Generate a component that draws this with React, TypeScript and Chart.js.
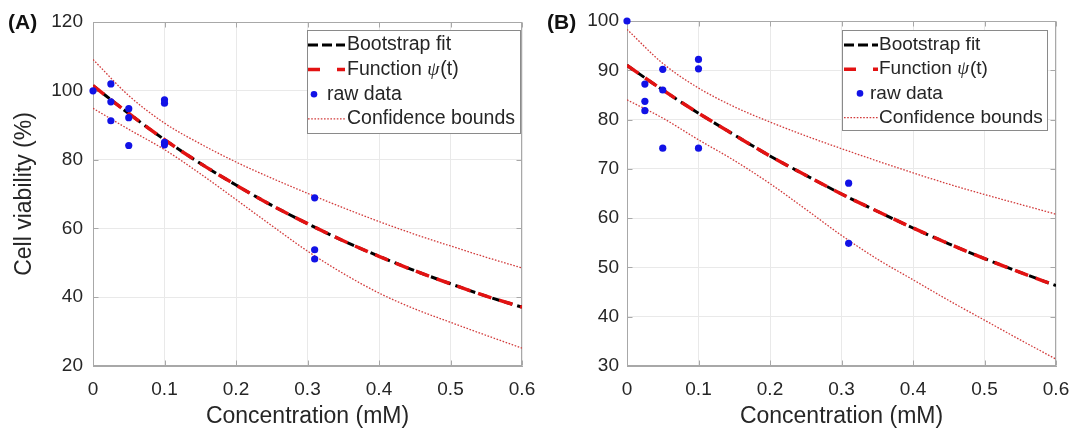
import React, { useEffect, useRef } from 'react';
import { Chart, registerables } from 'chart.js';

Chart.register(...registerables);

// ---------- data ----------
const xTickValues = [0, 0.1, 0.2, 0.3, 0.4, 0.5, 0.6];
const xTickLabels = ['0', '0.1', '0.2', '0.3', '0.4', '0.5', '0.6'];
const yTicksA = [20, 40, 60, 80, 100, 120];
const yTicksB = [30, 40, 50, 60, 70, 80, 90, 100];

const curveX = [0, 0.05, 0.1, 0.15, 0.2, 0.25, 0.3, 0.35, 0.4, 0.45, 0.5, 0.55, 0.6];

const fitA = [101.5, 93.4, 85.8, 78.9, 72.6, 66.7, 61.4, 56.4, 51.9, 47.7, 43.9, 40.3, 37.1];
const upperA = [109.1, 98.6, 90.6, 84.6, 79.3, 74.6, 70.2, 66.0, 62.0, 58.3, 54.9, 51.6, 48.5];
const lowerA = [94.9, 88.8, 82.9, 75.9, 68.4, 60.8, 53.4, 46.9, 41.2, 36.6, 32.7, 28.9, 25.2];
const rawAX = [0, 0.025, 0.025, 0.025, 0.05, 0.05, 0.05, 0.1, 0.1, 0.1, 0.1, 0.31, 0.31, 0.31];
const rawAY = [100, 102, 96.8, 91.3, 94.8, 92.2, 84.1, 97.4, 96.4, 84.3, 85.0, 68.9, 53.8, 51.1];

const fitB = [91.0, 86.0, 81.3, 76.9, 72.6, 68.7, 64.9, 61.4, 58.0, 54.8, 51.8, 49.0, 46.3];
const upperB = [98.3, 91.4, 86.4, 82.6, 79.5, 76.7, 74.1, 71.6, 69.2, 66.9, 64.8, 62.8, 60.8];
const lowerB = [84.0, 80.3, 75.9, 71.7, 67.0, 61.8, 56.5, 51.7, 47.5, 43.3, 39.3, 35.3, 31.4];
const rawBX = [0, 0.025, 0.025, 0.025, 0.05, 0.05, 0.05, 0.1, 0.1, 0.1, 0.31, 0.31];
const rawBY = [100, 87.2, 83.7, 81.8, 90.2, 86.0, 74.2, 92.2, 90.3, 74.2, 67.1, 54.9];

const legendLabels = ['Bootstrap fit', 'Function ', 'raw data', 'Confidence bounds'];
const xTitle = 'Concentration (mM)';
const yTitle = 'Cell viability (%)';

// ---------- styles ----------
const FONT = '"Liberation Sans", Arial, Helvetica, sans-serif';
const BLUE = '#1212e6';
const RED = '#e31212';
const BOUND = '#d23c3c';
const GRID = '#e9e9e9';
const AXIS = '#a8a8a8';
const TEXT = '#262626';
const LEGEND_BORDER = '#8a8a8a';

type LegendLayout = {
  x: number; y: number; w: number; h: number; font: number; first: number; step: number;
  s0: number; s1: number; textX: number; dotX: number; rawTextX: number;
};

type PanelLayout = {
  canvasLeft: number; width: number; top: number; padRight: number; yWidth: number;
  yTickPad: number; showYTitle: boolean; legend: LegendLayout;
};

const boxPlugin = {
  id: 'matlabBox',
  beforeDatasetsDraw(chart: any) {
    const { ctx, chartArea: a, scales } = chart;
    ctx.save();
    ctx.strokeStyle = AXIS;
    ctx.lineWidth = 1;
    const L = Math.round(a.left) + 0.5, R = Math.round(a.right) - 0.5;
    const T = Math.round(a.top) + 0.5, B = Math.round(a.bottom) - 0.5;
    ctx.strokeRect(L, T, R - L, B - T);
    const tl = 5;
    ctx.beginPath();
    scales.x.ticks.forEach((t: any) => {
      const px = Math.round(scales.x.getPixelForValue(t.value)) + 0.5;
      ctx.moveTo(px, B); ctx.lineTo(px, B - tl);
      ctx.moveTo(px, T); ctx.lineTo(px, T + tl);
    });
    scales.y.ticks.forEach((t: any) => {
      const py = Math.round(scales.y.getPixelForValue(t.value)) + 0.5;
      ctx.moveTo(L, py); ctx.lineTo(L + tl, py);
      ctx.moveTo(R, py); ctx.lineTo(R - tl, py);
    });
    ctx.stroke();
    ctx.restore();
  },
};

function makeLegendPlugin(L: LegendLayout) {
  return {
    id: 'boxLegend',
    afterDraw(chart: any) {
      const ctx = chart.ctx as CanvasRenderingContext2D;
      ctx.save();
      ctx.fillStyle = '#ffffff';
      ctx.fillRect(L.x, L.y, L.w, L.h);
      ctx.strokeStyle = LEGEND_BORDER;
      ctx.lineWidth = 1;
      ctx.setLineDash([]);
      ctx.strokeRect(L.x + 0.5, L.y + 0.5, L.w, L.h);
      const ry = (i: number) => L.y + L.first + i * L.step;
      const seg = (y: number) => {
        ctx.beginPath();
        ctx.moveTo(L.s0, y);
        ctx.lineTo(L.s1, y);
        ctx.stroke();
      };
      ctx.lineCap = 'butt';
      // Bootstrap fit
      ctx.strokeStyle = '#000';
      ctx.lineWidth = 3;
      ctx.setLineDash([10, 4]);
      seg(ry(0));
      // Function psi
      ctx.strokeStyle = RED;
      ctx.lineWidth = 3.5;
      ctx.setLineDash([12, 17]);
      seg(ry(1));
      // raw data
      ctx.setLineDash([]);
      ctx.fillStyle = BLUE;
      ctx.beginPath();
      ctx.arc(L.dotX, ry(2), 3.3, 0, Math.PI * 2);
      ctx.fill();
      // confidence
      ctx.strokeStyle = BOUND;
      ctx.lineWidth = 1.3;
      ctx.setLineDash([1.6, 1.6]);
      seg(ry(3));
      ctx.setLineDash([]);
      // text
      ctx.fillStyle = TEXT;
      ctx.textBaseline = 'middle';
      ctx.textAlign = 'left';
      ctx.font = `${L.font}px ${FONT}`;
      ctx.fillText(legendLabels[0], L.textX, ry(0));
      ctx.fillText(legendLabels[1], L.textX, ry(1));
      const w1 = ctx.measureText(legendLabels[1]).width;
      ctx.font = `italic ${L.font}px "Liberation Serif", "DejaVu Serif", serif`;
      ctx.fillText('ψ', L.textX + w1, ry(1));
      const w2 = ctx.measureText('ψ').width;
      ctx.font = `${L.font}px ${FONT}`;
      ctx.fillText('(t)', L.textX + w1 + w2 + 1, ry(1));
      ctx.fillText(legendLabels[2], L.rawTextX, ry(2));
      ctx.fillText(legendLabels[3], L.textX, ry(3));
      ctx.restore();
    },
  };
}

const pts = (xs: number[], ys: number[]) => xs.map((x, i) => ({ x, y: ys[i] }));

function buildConfig(
  p: PanelLayout,
  fit: number[], upper: number[], lower: number[],
  rawX: number[], rawY: number[], yTicks: number[]
): any {
  const curveCommon = {
    showLine: true,
    pointRadius: 0,
    pointHoverRadius: 0,
    cubicInterpolationMode: 'monotone',
    fill: false,
  };
  return {
    type: 'scatter',
    data: {
      datasets: [
        {
          label: 'raw data', data: pts(rawX, rawY), showLine: false,
          pointRadius: 3.6, pointBackgroundColor: BLUE, pointBorderWidth: 0,
          pointBorderColor: BLUE, order: 0, clip: false,
        },
        {
          ...curveCommon, label: 'Function ψ(t)', data: pts(curveX, fit),
          borderColor: RED, borderWidth: 3.5, borderDash: [14, 8], order: 1,
        },
        {
          ...curveCommon, label: 'Bootstrap fit', data: pts(curveX, fit),
          borderColor: '#000000', borderWidth: 3, borderDash: [8, 5], order: 2,
        },
        {
          ...curveCommon, label: 'Confidence bounds', data: pts(curveX, upper),
          borderColor: BOUND, borderWidth: 1.3, borderDash: [1.6, 1.6], order: 3,
        },
        {
          ...curveCommon, label: 'Confidence bounds (lower)', data: pts(curveX, lower),
          borderColor: BOUND, borderWidth: 1.3, borderDash: [1.6, 1.6], order: 3,
        },
      ],
    },
    options: {
      responsive: false,
      animation: false,
      events: [],
      layout: { padding: { left: 0, top: p.top, right: p.padRight, bottom: 0 } },
      plugins: { legend: { display: false }, tooltip: { enabled: false } },
      scales: {
        x: {
          type: 'linear', min: 0, max: 0.6,
          afterBuildTicks: (s: any) => { s.ticks = xTickValues.map((v) => ({ value: v })); },
          afterFit: (s: any) => { s.height = 66; s.paddingLeft = 0; s.paddingRight = 0; },
          ticks: {
            callback: (_v: any, i: number) => xTickLabels[i],
            font: { family: FONT, size: 19 }, color: TEXT, padding: 12,
            maxRotation: 0, autoSkip: false,
          },
          grid: { color: GRID, drawTicks: false },
          border: { color: AXIS },
          title: {
            display: true, text: xTitle, color: TEXT,
            font: { family: FONT, size: 23 }, padding: { top: 0, bottom: 2 },
          },
        },
        y: {
          type: 'linear', min: yTicks[0], max: yTicks[yTicks.length - 1],
          afterBuildTicks: (s: any) => { s.ticks = yTicks.map((v) => ({ value: v })); },
          afterFit: (s: any) => { s.width = p.yWidth; s.paddingTop = 0; s.paddingBottom = 0; },
          ticks: {
            callback: (v: any) => String(v),
            font: { family: FONT, size: 19 }, color: TEXT, padding: p.yTickPad,
            autoSkip: false,
          },
          grid: { color: GRID, drawTicks: false },
          border: { color: AXIS },
          title: {
            display: p.showYTitle, text: yTitle, color: TEXT,
            font: { family: FONT, size: 23 }, padding: { top: 11, bottom: 0 },
          },
        },
      },
    },
    plugins: [boxPlugin, makeLegendPlugin(p.legend)],
  };
}

const layoutA: PanelLayout = {
  canvasLeft: 0, width: 537, top: 22, padRight: 15, yWidth: 93, yTickPad: 10, showYTitle: true,
  legend: {
    x: 307, y: 30, w: 213, h: 103, font: 19.5, first: 15, step: 24.6,
    s0: 308, s1: 345, textX: 347, dotX: 314, rawTextX: 327,
  },
};

const layoutB: PanelLayout = {
  canvasLeft: 537, width: 538, top: 21, padRight: 19, yWidth: 90, yTickPad: 8, showYTitle: false,
  legend: {
    x: 305, y: 30, w: 205, h: 100, font: 19, first: 15, step: 24.2,
    s0: 307, s1: 341, textX: 342, dotX: 323, rawTextX: 333,
  },
};

function Panel(props: {
  layout: PanelLayout; fit: number[]; upper: number[]; lower: number[];
  rawX: number[]; rawY: number[]; yTicks: number[];
}) {
  const ref = useRef<HTMLCanvasElement>(null);
  useEffect(() => {
    const { layout, fit, upper, lower, rawX, rawY, yTicks } = props;
    const chart = new Chart(ref.current as HTMLCanvasElement,
      buildConfig(layout, fit, upper, lower, rawX, rawY, yTicks));
    return () => chart.destroy();
  }, []);
  const { layout } = props;
  return (
    <canvas
      ref={ref}
      width={layout.width}
      height={432}
      style={{ position: 'absolute', left: layout.canvasLeft, top: 0, width: layout.width, height: 432 }}
    />
  );
}

const labelStyle: React.CSSProperties = {
  position: 'absolute', top: 11, fontFamily: FONT, fontWeight: 'bold',
  fontSize: 21, lineHeight: '22px', color: '#111', zIndex: 2,
};

export default function App() {
  return (
    <div style={{ position: 'absolute', left: 0, top: 0, width: 1075, height: 432, background: '#fff', overflow: 'hidden' }}>
      <Panel layout={layoutA} fit={fitA} upper={upperA} lower={lowerA} rawX={rawAX} rawY={rawAY} yTicks={yTicksA} />
      <Panel layout={layoutB} fit={fitB} upper={upperB} lower={lowerB} rawX={rawBX} rawY={rawBY} yTicks={yTicksB} />
      <div style={{ ...labelStyle, left: 8 }}>(A)</div>
      <div style={{ ...labelStyle, left: 547 }}>(B)</div>
    </div>
  );
}
